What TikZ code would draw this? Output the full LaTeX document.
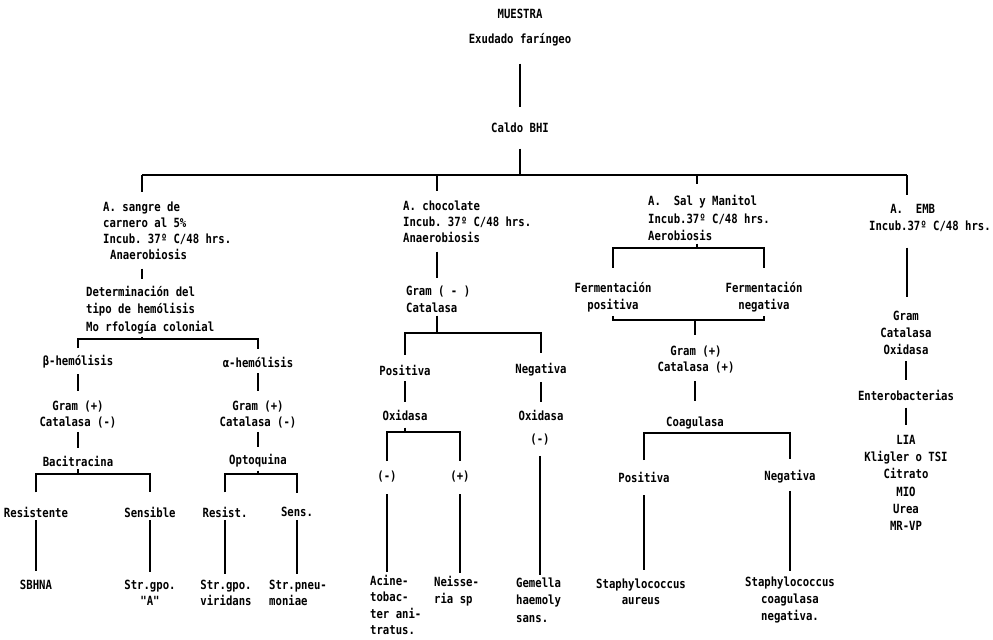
\documentclass[tikz,border=0pt]{standalone}
\usepackage{fontspec}
\newfontfamily\dotfont[FakeStretch=0.84]{DejaVu Sans Mono}
\begin{document}
\begin{tikzpicture}[x=0.025cm, y=-0.025cm, line width=1.5pt,
    txt/.style={font=\dotfont\bfseries\fontsize{9}{11.4}\selectfont\frenchspacing, inner sep=1.5pt, align=center},
    loose/.style={font=\dotfont\bfseries\fontsize{9}{12.3}\selectfont\frenchspacing},
    lft/.style={align=left, anchor=west}]
  \useasboundingbox[fill=white] (0,0) rectangle (993,639);
  % muestra y caldo
  \node[txt] (mst) at (520,14) {MUESTRA};
  \node[txt] (exu) at (520,40) {Exudado faríngeo};
  \node[txt] (cal) at (520,128) {Caldo BHI};
  \coordinate (bus) at (520,175);
  \coordinate (dA) at (142,175);
  \coordinate (dB) at (437,175);
  \coordinate (dC) at (697,175);
  \coordinate (dD) at (907,175);
  \draw[shorten <=10pt, shorten >=9pt] (exu) -- (cal);
  \draw[shorten <=9pt] (cal) -- (bus);
  \draw (dA) -- (dD);
  % agar sangre
  \node[txt, lft] (sgr) at (100,231) {A. sangre de\\carnero al 5\%\\Incub. 37º C/48 hrs.\\\hspace*{5pt}Anaerobiosis};
  \draw[shorten >=5pt] (dA) -- (dA |- sgr.north);
  \node[txt, lft, loose] (det) at (83,310) {Determinación del\\tipo de hemólisis\\Mo rfología colonial};
  \draw[shorten <=4pt, shorten >=3pt] (sgr.south -| dA) -- (det.north -| dA);
  \coordinate (jA1) at (142,339);
  \draw (det.south -| jA1) -- (jA1);
  \node[txt] (bh) at (78,362) {β-hemólisis};
  \node[txt] (ah) at (258,362) {α-hemólisis};
  \draw[shorten <=3pt, shorten >=3pt] (bh.north) |- (jA1) -| (ah.north);
  \node[txt] (gA1) at (78,415) {Gram (+)\\Catalasa (-)};
  \node[txt] (gA2) at (258,415) {Gram (+)\\Catalasa (-)};
  \draw[shorten <=2pt, shorten >=5pt] (bh) -- (gA1);
  \draw[shorten <=2pt, shorten >=5pt] (ah) -- (gA2);
  \node[txt] (bac) at (78,461) {Bacitracina};
  \node[txt] (opt) at (258,461) {Optoquina};
  \draw[shorten >=3pt] (gA1) -- (bac);
  \draw[shorten >=3pt] (gA2) -- (opt);
  \coordinate (jA2) at (78,474);
  \coordinate (jA3) at (258,474);
  \node[txt] (res) at (36,512) {Resistente};
  \node[txt] (sen) at (150,512) {Sensible};
  \node[txt] (rst) at (225,512) {Resist.};
  \node[txt] (sns) at (297,512) {Sens.};
  \draw (bac) -- (jA2);
  \draw (opt) -- (jA3);
  \draw[shorten <=8pt, shorten >=8pt] (res.north) |- (jA2) -| (sen.north);
  \draw[shorten <=8pt, shorten >=8pt] (rst.north) |- (jA3) -| (sns.north);
  \node[txt] (sbh) at (36,585) {SBHNA};
  \node[txt] (sga) at (150,593) {Str.gpo.\\{}"A"};
  \node[txt] (svr) at (226,593) {Str.gpo.\\viridans};
  \node[txt, align=left] (spn) at (298,593) {Str.pneu-\\moniae};
  \draw[shorten >=4pt] (res) -- (res |- sbh.north);
  \draw[shorten >=4pt] (sen) -- (sen |- sga.north);
  \draw[shorten >=2pt] (rst) -- (rst |- svr.north);
  \draw[shorten >=2pt] (sns) -- (sns |- spn.north);
  % agar chocolate
  \node[txt, lft] (cho) at (400,222) {A. chocolate\\Incub. 37º C/48 hrs.\\Anaerobiosis};
  \draw[shorten >=5pt] (dB) -- (dB |- cho.north);
  \node[txt, lft, loose] (grn) at (403,299) {Gram ( - )\\Catalasa};
  \draw[shorten <=4pt, shorten >=3pt] (cho.south -| dB) -- (grn.north -| dB);
  \coordinate (jB1) at (437,333);
  \draw (grn.south -| jB1) -- (jB1);
  \node[txt] (pos) at (405,370) {Positiva};
  \node[txt] (neg) at (541,370) {Negativa};
  \draw[shorten <=5pt, shorten >=5pt] (pos.north) |- (jB1) -| (neg.north);
  \node[txt] (oxl) at (405,415) {Oxidasa};
  \node[txt] (oxr) at (541,415) {Oxidasa};
  \draw[shorten <=2pt, shorten >=3pt] (pos) -- (oxl);
  \draw[shorten <=2pt, shorten >=3pt] (neg) -- (oxr);
  \coordinate (jB2) at (405,432);
  \draw[shorten <=3pt] (oxl) -- (jB2);
  \node[txt] (mn1) at (387,477) {(-)};
  \node[txt] (pl1) at (460,477) {(+)};
  \draw[shorten <=5pt, shorten >=5pt] (mn1.north) |- (jB2) -| (pl1.north);
  \node[txt] (mn2) at (540,440) {(-)};
  \node[txt, lft, font=\dotfont\bfseries\fontsize{9}{11.8}\selectfont] (aci) at (367,605) {Acine-\\tobac-\\ter ani-\\tratus.};
  \node[txt, lft, loose] (nei) at (431,591.5) {Neisse-\\ria sp};
  \node[txt, lft, loose] (gem) at (513,600) {Gemella\\haemoly\\sans.};
  \draw[shorten <=6pt] (mn1) -- (mn1 |- aci.north);
  \draw[shorten <=6pt] (pl1) -- (pl1 |- nei.north);
  \draw[shorten <=5pt] (mn2) -- (mn2 |- gem.north);
  % agar sal y manitol
  \node[txt, lft, loose] (sal) at (645,218) {A.\ \ Sal y Manitol\\Incub.37º C/48 hrs.\\Aerobiosis};
  \draw[shorten >=6pt] (dC) -- (dC |- sal.north);
  \coordinate (jC1) at (697,248);
  \draw (sal.south -| jC1) -- (jC1);
  \node[txt, loose] (fp) at (613,297.5) {Fermentación\\positiva};
  \node[txt, loose] (fn) at (764,297.5) {Fermentación\\negativa};
  \draw[shorten <=8pt, shorten >=8pt] (fp.north) |- (jC1) -| (fn.north);
  \coordinate (jC2) at (695,320);
  \draw (fp.south) |- (jC2) -| (fn.south);
  \node[txt] (gC) at (696,360) {Gram (+)\\Catalasa (+)};
  \draw[shorten >=5.5pt] (jC2) -- (jC2 |- gC.north);
  \node[txt] (coa) at (695,423) {Coagulasa};
  \draw[shorten <=3pt, shorten >=9pt] (gC.south -| jC2) -- (coa.north -| jC2);
  \coordinate (jC3) at (695,433);
  \draw (coa) -- (jC3);
  \node[txt] (cp) at (644,477) {Positiva};
  \node[txt] (cn) at (790,477) {Negativa};
  \draw[shorten <=6pt, shorten >=6pt] (cp.north) |- (jC3) -| (cn.north);
  \node[txt] (sau) at (641,591.5) {Staphylococcus\\aureus};
  \node[txt, loose] (scn) at (790,600) {Staphylococcus\\coagulasa\\negativa.};
  \draw[shorten <=7pt, shorten >=4pt] (cp) -- (cp |- sau.north);
  \draw[shorten <=3pt, shorten >=2pt] (cn) -- (cn |- scn.north);
  % agar EMB
  \node[txt, lft, loose] (emb) at (866,218) {\hspace*{15pt}A.\ \ EMB\\Incub.37º C/48 hrs.};
  \draw[shorten >=4pt] (dD) -- (dD |- emb.north);
  \node[txt, loose] (gco) at (906,333) {Gram\\Catalasa\\Oxidasa};
  \draw[shorten <=9pt, shorten >=8pt] (emb.south -| dD) -- (gco.north -| dD);
  \node[txt] (ent) at (906,395) {Enterobacterias};
  \draw[shorten <=2pt, shorten >=5pt] (gco) -- (ent);
  \node[txt, loose] (lia) at (906,483) {LIA\\Kligler o TSI\\Citrato\\MIO\\Urea\\MR-VP};
  \draw[shorten <=3pt, shorten >=5pt] (ent) -- (lia);
\end{tikzpicture}
\end{document}
